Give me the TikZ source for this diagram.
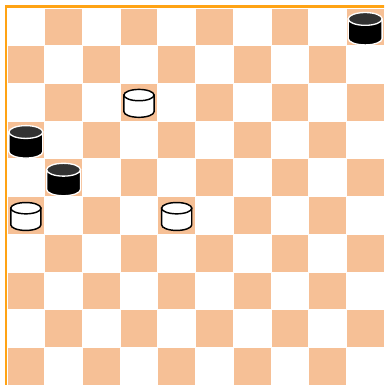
\documentclass[tikz,border=0pt]{standalone}
\usepackage{xcolor}
\definecolor{sqorange}{RGB}{246,192,150}
\definecolor{rimorange}{RGB}{255,163,20}
\definecolor{capgray}{RGB}{50,50,50}
\begin{document}
\begin{tikzpicture}[
    darksq/.style={fill=sqorange,draw=white,line width=0.5pt},
    blackman/.style={draw=white,line width=1pt},
    whiteman/.style={draw=black,line width=1.1pt,fill=white}]
  \useasboundingbox (-0.186,-10) rectangle (10,0.212);
  \clip (-0.186,-10) rectangle (10,0.212);
  % --- board
  \fill[white] (0,0) rectangle (10,-10);
  \foreach \i in {0,...,9}{
    \foreach \j in {0,2,...,8}{
      \pgfmathtruncatemacro{\c}{\j+mod(\i+1,2)}
      \draw[darksq] (\c,-\i) rectangle ++(1,-1);}}
  \draw[rimorange,line width=1.9pt] (-0.033,-10.2) -- (-0.033,0.033) -- (10.2,0.033);
  % --- black men
  \foreach \c/\r in {9/0,0/3,1/4}{
    \begin{scope}[shift={(\c+0.5,-\r-0.55)}]
      \filldraw[blackman,fill=black] (-0.45,0.26) -- (-0.45,-0.26)
        arc[start angle=180,end angle=360,x radius=0.45,y radius=0.17]
        -- (0.45,0.26) -- cycle;
      \filldraw[blackman,fill=capgray] (0,0.26) ellipse[x radius=0.45,y radius=0.17];
    \end{scope}}
  % --- white men
  \foreach \c/\r in {3/2,0/5,4/5}{
    \begin{scope}[shift={(\c+0.5,-\r-0.53)}]
      \filldraw[whiteman] (-0.4,0.22) -- (-0.4,-0.22)
        arc[start angle=180,end angle=360,x radius=0.4,y radius=0.15]
        -- (0.4,0.22) -- cycle;
      \filldraw[whiteman] (0,0.22) ellipse[x radius=0.4,y radius=0.15];
    \end{scope}}
\end{tikzpicture}
\end{document}
